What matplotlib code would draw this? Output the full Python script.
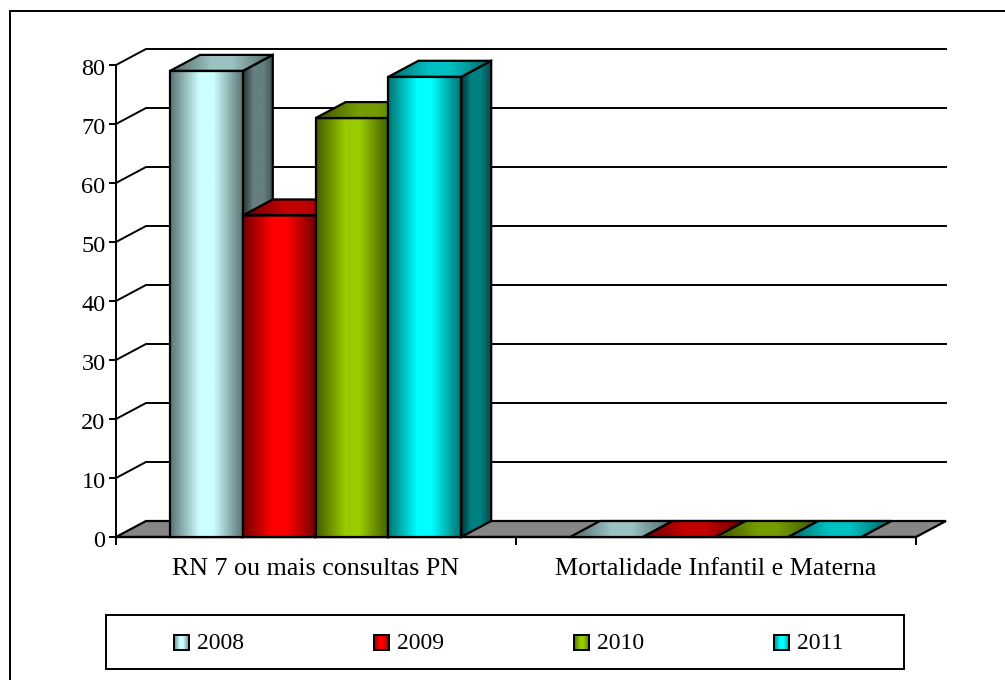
import numpy as np
import matplotlib
matplotlib.use('Agg')
import matplotlib.pyplot as plt
from matplotlib.colors import LinearSegmentedColormap
from matplotlib.patches import Polygon, Rectangle
from matplotlib.transforms import ScaledTranslation

plt.rcParams['font.family'] = ['Liberation Serif', 'DejaVu Serif']

categories = ['RN 7 ou mais consultas PN', 'Mortalidade Infantil e Materna']
years = ['2008', '2009', '2010', '2011']
v2008 = [79, 0]
v2009 = [54.5, 0]
v2010 = [71, 0]
v2011 = [78, 0]
y_ticks = [0, 10, 20, 30, 40, 50, 60, 70, 80]

series = [v2008, v2009, v2010, v2011]
front_colors = ['#ccffff', '#ff0000', '#99cc00', '#00ffff']

W, H = 1005, 680
DX = 30 / 400      # depth offset in category units
DY = 16 / 5.9      # depth offset in value units
BAR_W = 0.182
GROUP_PAD = 0.135


def shade(color, k):
    return tuple(c * k for c in matplotlib.colors.to_rgb(color))


def grad_cmap(color, edge, mid):
    # dark at both edges, brightest in the centre
    return LinearSegmentedColormap.from_list('g', [
        (0.0, shade(color, edge)), (0.4, shade(color, mid)),
        (0.6, shade(color, mid)), (1.0, shade(color, edge))])


GRAD = np.linspace(0, 1, 128).reshape(1, -1)


def fill_grad(ax, pts, cmap, z):
    pts = np.array(pts)
    poly = Polygon(pts, closed=True, fc='none', ec='none', transform=ax.transData)
    ax.add_patch(poly)
    im = ax.imshow(GRAD, cmap=cmap, aspect='auto', zorder=z,
                   extent=(pts[:, 0].min(), pts[:, 0].max(), pts[:, 1].min(), pts[:, 1].max()))
    # tops reach above the axes, so only clip to the polygon
    im.set_clip_box(fig.bbox)
    im.set_clip_path(poly)
    ax.add_patch(Polygon(pts, closed=True, fc='none', ec='black', lw=1.6,
                         joinstyle='miter', zorder=z + 0.1, clip_on=False))


fig = plt.figure(figsize=(W / 100, H / 100), dpi=100)

# outer frame, runs off the right and bottom edges
bg = fig.add_axes([0, 0, 1, 1])
bg.set_xlim(0, W)
bg.set_ylim(H, 0)
bg.axis('off')
bg.add_patch(Rectangle((9.5, 10.5), 1100, 800, fc='white', ec='black', lw=1.4))

ax = fig.add_axes([116 / W, 1 - 537 / H, 800 / W, 472 / H])
ax.set_xlim(0, 2)
ax.set_ylim(0, 80)
ax.patch.set_visible(False)
for s in ['top', 'right']:
    ax.spines[s].set_visible(False)
ax.spines['left'].set_linewidth(1.4)
ax.spines['left'].set_zorder(1)

# back wall gridlines with their slanted side-wall segments
for t in y_ticks[1:]:
    ax.plot([0, DX, 2 + DX], [t, t + DY, t + DY], color='black', lw=1.4, zorder=1, clip_on=False)

# floor
ax.add_patch(Polygon([(0, 0), (DX, DY), (2 + DX, DY), (2, 0)], closed=True,
                     fc='#868686', ec='black', lw=1.6, zorder=1.5, clip_on=False))

ax.set_xticks([0, 1, 2])
ax.set_xticklabels([])
ax.set_yticks(y_ticks)
ax.set_yticklabels([str(t) for t in y_ticks], fontsize=17.5)
ax.tick_params(axis='y', direction='out', length=5, width=1.4, pad=2.5)
ax.tick_params(axis='x', direction='out', length=6, width=1.4)
ax.spines['bottom'].set_linewidth(1.6)
ax.spines['bottom'].set_zorder(1.6)

# tick labels sit a touch below their ticks
nudge = ScaledTranslation(0, -1.5 / 72, fig.dpi_scale_trans)
for lbl in ax.get_yticklabels():
    lbl.set_transform(lbl.get_transform() + nudge)

for g, label in enumerate(categories):
    ax.text(g + 0.5, -5.5, label, ha='center', va='center', fontsize=18.7)

# bars, left to right inside each group
for g in range(len(categories)):
    for i, vals in enumerate(series):
        v = vals[g]
        c = front_colors[i]
        x0 = g + GROUP_PAD + i * BAR_W
        x1 = x0 + BAR_W
        z = 2 + i * 0.5
        side = LinearSegmentedColormap.from_list('s', [shade(c, 0.2), shade(c, 0.5), shade(c, 0.5), shade(c, 0.3)])
        fill_grad(ax, [(x1, 0), (x1 + DX, DY), (x1 + DX, v + DY), (x1, v)], side, z)
        fill_grad(ax, [(x0, v), (x0 + DX, v + DY), (x1 + DX, v + DY), (x1, v)],
                  grad_cmap(c, 0.4, 0.76), z + 0.2)
        if v > 0:
            fill_grad(ax, [(x0, 0), (x0, v), (x1, v), (x1, 0)],
                      grad_cmap(c, 0.45, 1.0), z + 0.3)

# legend box
bg.add_patch(Rectangle((106, 615), 798, 54, fc='white', ec='black', lw=1.4))
leg_x = [174, 374, 574, 774]
for lx, yr, c in zip(leg_x, years, front_colors):
    lax = fig.add_axes([lx / W, 1 - 650 / H, 15 / W, 15 / H])
    lax.imshow(GRAD, cmap=grad_cmap(c, 0.55, 1.0), aspect='auto')
    lax.set_xticks([])
    lax.set_yticks([])
    for s in lax.spines.values():
        s.set_linewidth(1.4)
    bg.text(lx + 23, 643.5, yr, ha='left', va='center', fontsize=17)

fig.savefig('out.png', dpi=100)
